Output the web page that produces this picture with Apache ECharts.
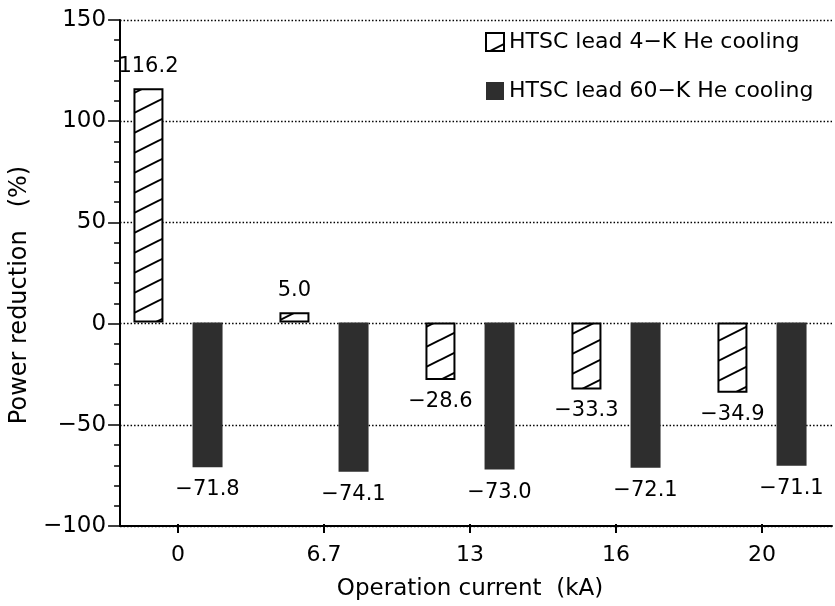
<!DOCTYPE html>
<html>
<head>
<meta charset="utf-8">
<script src="https://cdn.jsdelivr.net/npm/echarts@6/dist/echarts.min.js"></script>
<style>
  html, body { margin: 0; padding: 0; background: #fff; }
  #chart { width: 835px; height: 606px; }
</style>
</head>
<body>
<div id="chart"></div>
<script>
var categories = ['0', '6.7', '13', '16', '20'];
var he4K = [116.2, 5.0, -28.6, -33.3, -34.9];
var he60K = [-71.8, -74.1, -73.0, -72.1, -71.1];
var seriesNames = ['HTSC lead 4\u2212K He cooling', 'HTSC lead 60\u2212K He cooling'];
var yTicks = { min: -100, max: 150, interval: 50 };

var FONT = 'DejaVu Sans';

function minus(v) {
  return String(v).replace('-', '\u2212');
}

// diagonal hatch for the 4-K bars
function makeHatch() {
  var c = document.createElement('canvas');
  c.width = 40; c.height = 20;
  var ctx = c.getContext('2d');
  ctx.fillStyle = '#fff';
  ctx.fillRect(0, 0, 40, 20);
  ctx.strokeStyle = '#000';
  ctx.lineWidth = 2;
  ctx.beginPath();
  [-20, 0, 20].forEach(function (s) {
    ctx.moveTo(-10, 20 + s + 5);
    ctx.lineTo(50, 20 + s - 25);
  });
  ctx.stroke();
  return c;
}

function withLabels(arr) {
  return arr.map(function (v) {
    return { value: v, label: { position: v >= 0 ? 'top' : 'bottom' } };
  });
}

var myChart = echarts.init(document.getElementById('chart'));
var option = {
  animation: false,
  textStyle: { fontFamily: FONT, color: '#000' },
  legend: {
    orient: 'vertical',
    left: 485,
    top: 31,
    icon: 'rect',
    itemWidth: 18,
    itemHeight: 18,
    itemGap: 27,
    padding: 0,
    textStyle: { fontSize: 22, color: '#000', fontFamily: FONT },
    data: seriesNames
  },
  grid: [
    { left: 119, right: 3, top: 20, bottom: 80 },
    { left: 105, width: 744, top: 20, bottom: 80 }
  ],
  xAxis: [
    {
      gridIndex: 0, type: 'value', min: 0, max: 1,
      axisLine: { show: true, onZero: false, lineStyle: { color: '#000', width: 2 } },
      axisTick: { show: false }, axisLabel: { show: false }, splitLine: { show: false }
    },
    {
      gridIndex: 1, type: 'category', data: categories,
      axisLine: { show: false, onZero: false },
      axisTick: { show: true, alignWithLabel: true, length: 9, lineStyle: { color: '#000', width: 2 } },
      axisLabel: { fontSize: 22, color: '#000', margin: 20, fontFamily: FONT },
      name: 'Operation current  (kA)',
      nameLocation: 'middle',
      nameGap: 54,
      nameTextStyle: { fontSize: 23, color: '#000', fontFamily: FONT }
    }
  ],
  yAxis: [
    {
      gridIndex: 0, type: 'value',
      min: yTicks.min, max: yTicks.max, interval: yTicks.interval,
      axisLine: { show: true, lineStyle: { color: '#000', width: 2 } },
      axisTick: { show: true, inside: false, length: 12, lineStyle: { color: '#000', width: 1.5 } },
      minorTick: { show: true, splitNumber: 5, length: 6, lineStyle: { color: '#000', width: 1.5 } },
      axisLabel: { fontSize: 23, color: '#000', margin: 14, fontFamily: FONT, formatter: minus },
      splitLine: { show: true, lineStyle: { color: '#000', type: [1.5, 2], width: 1.3 } },
      name: 'Power reduction   (%)',
      nameLocation: 'middle',
      nameGap: 86,
      nameTextStyle: { fontSize: 24, color: '#000', fontFamily: FONT, padding: [0, 44, 0, 0] }
    },
    {
      gridIndex: 1, type: 'value', show: false,
      min: yTicks.min, max: yTicks.max, interval: yTicks.interval,
      splitLine: { show: false }
    }
  ],
  series: [
    {
      name: seriesNames[0],
      type: 'bar',
      xAxisIndex: 1, yAxisIndex: 1,
      barWidth: 30,
      barGap: '97%',
      data: withLabels(he4K),
      itemStyle: {
        color: { image: makeHatch(), repeat: 'repeat' },
        borderColor: '#000',
        borderWidth: 2
      },
      label: {
        show: true, fontSize: 21, color: '#000', distance: 11, fontFamily: FONT,
        formatter: function (p) { return minus(p.value.toFixed(1)); }
      }
    },
    {
      name: seriesNames[1],
      type: 'bar',
      xAxisIndex: 1, yAxisIndex: 1,
      barWidth: 30,
      data: withLabels(he60K),
      itemStyle: { color: '#2e2e2e' },
      label: {
        show: true, fontSize: 21, color: '#000', distance: 12, fontFamily: FONT,
        formatter: function (p) { return minus(p.value.toFixed(1)); }
      }
    }
  ]
};
option && myChart.setOption(option);
window.addEventListener('resize', myChart.resize);
</script>
</body>
</html>
